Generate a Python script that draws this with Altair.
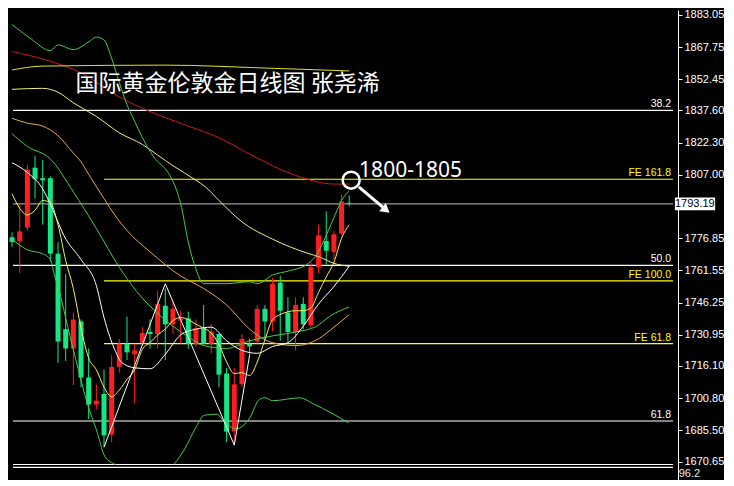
import altair as alt
import pandas as pd

# ---------------- candles (index 0..44, daily) ----------------
idx = list(range(45))
opens = [1777.3, 1775.5, 1781.9, 1810.4, 1805.4, 1805.4, 1769.5, 1733.6, 1724.4, 1737.3,
         1710.6, 1697.8, 1702.8, 1683.5, 1715.7, 1726.7, 1721.7, 1727.2, 1732.3, 1731.3,
         1744.7, 1735.9, 1737.8, 1738.7, 1726.7, 1734.1, 1726.7, 1731.3, 1712.5, 1684.9,
         1707.4, 1726.7, 1727.7, 1743.3, 1737.3, 1755.7, 1741.5, 1732.3, 1745.6, 1735.5,
         1763.1, 1775.5, 1770.4, 1779.1, 1793.7]
highs = [1779.6, 1793.4, 1811.8, 1815.9, 1814.1, 1806.3, 1775.0, 1759.8, 1741.5, 1738.2,
         1724.4, 1707.4, 1714.3, 1721.2, 1729.0, 1739.6, 1726.7, 1734.6, 1738.2, 1752.0,
         1753.0, 1746.5, 1742.4, 1741.9, 1738.2, 1745.1, 1735.9, 1731.5, 1715.2, 1715.2,
         1731.3, 1729.0, 1745.1, 1745.1, 1758.0, 1758.9, 1748.8, 1748.8, 1748.8, 1765.4,
         1783.3, 1789.7, 1780.5, 1797.5, 1797.1]
lows = [1772.7, 1760.3, 1780.5, 1795.7, 1783.3, 1765.8, 1717.5, 1718.5, 1707.0, 1706.0,
        1690.9, 1695.5, 1677.5, 1679.9, 1712.9, 1718.9, 1698.2, 1725.8, 1724.4, 1724.4,
        1718.9, 1731.3, 1726.7, 1724.4, 1725.4, 1726.3, 1722.1, 1706.0, 1679.9, 1678.5,
        1706.0, 1721.2, 1726.7, 1729.0, 1732.7, 1728.1, 1727.7, 1723.5, 1733.6, 1734.1,
        1760.3, 1764.4, 1766.7, 1778.2, 1792.0]
closes = [1775.0, 1780.1, 1809.5, 1804.9, 1804.4, 1769.5, 1727.7, 1724.4, 1738.2, 1710.6,
          1697.8, 1699.6, 1683.1, 1715.7, 1726.7, 1722.6, 1723.5, 1731.8, 1731.3, 1745.6,
          1735.9, 1743.3, 1738.7, 1726.7, 1734.1, 1726.7, 1732.3, 1712.0, 1684.9, 1707.4,
          1729.0, 1725.4, 1743.3, 1737.3, 1755.2, 1742.4, 1732.3, 1745.1, 1735.9, 1763.1,
          1778.2, 1770.9, 1778.7, 1794.3, 1793.19]

# ---------------- indicator lines (index, price) ----------------
red_i = [0, 5, 9, 14, 18, 23, 27, 31, 37, 42, 44]
red_p = [1865.58, 1860.98, 1855.47, 1843.97, 1837.08, 1830.18, 1824.66, 1816.85, 1806.73, 1802.59, 1802.59]

flat_i = [0, 4, 20, 33, 44]
flat_p = [1856.84, 1858.68, 1859.14, 1857.76, 1856.38]

ma60_i = [0, 4, 6, 8, 11, 14, 17, 19, 21, 24, 25.25, 27, 30, 34, 38.75, 40, 42, 44]
ma60_p = [1847.65, 1848.11, 1846.27, 1841.21, 1834.78, 1826.96, 1821.44, 1816.38, 1811.33,
          1804.43, 1801.22, 1794.78, 1784.66, 1776.39, 1769.49, 1768.11, 1764.89, 1763.51]

ma30_i = [0, 2, 4, 6, 8, 9, 10, 12, 13.5, 15, 18, 22, 25, 28, 31, 34, 37, 40, 42, 44]
ma30_p = [1833.86, 1831.56, 1830.18, 1825.58, 1817.30, 1813.16, 1807.19, 1795.70, 1787.42,
          1780.52, 1770.40, 1758.92, 1752.94, 1745.12, 1733.63, 1727.19, 1725.81, 1729.03,
          1734.55, 1740.53]

bbu_i = [0, 2.5, 5, 6, 8, 10, 11, 12, 13, 14, 15, 16, 17, 18.5, 20.5, 21.5, 22, 23, 24, 25,
         28, 31, 32, 34, 36, 38.5, 39.75, 41, 42.25, 43, 44]
bbu_p = [1878.45, 1871.56, 1866.04, 1868.80, 1866.50, 1870.18, 1872.48, 1871.10, 1862.36,
         1850.87, 1840.29, 1832.47, 1824.66, 1815.47, 1807.19, 1799.38, 1793.40, 1775.00,
         1762.13, 1755.24, 1755.24, 1756.16, 1755.24, 1759.37, 1761.21, 1764.43, 1769.03,
         1778.22, 1788.77, 1794.78, 1799.38]

bbm_i = [0, 2, 5, 8, 11, 14, 17, 18.5, 21, 23, 25, 28, 31, 34, 37, 39.75, 41.4, 44]
bbm_p = [1826.50, 1820.52, 1814.55, 1798.91, 1781.44, 1763.05, 1748.34, 1742.83, 1735.01,
         1729.95, 1725.81, 1724.43, 1728.11, 1730.41, 1732.25, 1735.01, 1739.61, 1744.20]

bbl1_i = [0, 2, 4, 5, 5.5, 6.375, 7.25, 8.5, 9.75, 11.125, 12, 13, 13.5]
bbl1_p = [1776.39, 1771.33, 1769.49, 1766.73, 1759.83, 1748.80, 1735.01, 1716.62, 1699.15,
          1684.44, 1673.86, 1670.18, 1669.26]
bbl2_i = [21.125, 22.6, 23.9, 25.1, 26.75, 27.6, 29.25, 31, 32.25, 33, 34, 37.6, 39.25, 41.75, 43.9]
bbl2_p = [1669.26, 1677.08, 1686.27, 1692.71, 1693.17, 1689.95, 1686.27, 1691.33, 1700.07,
          1700.99, 1699.61, 1700.99, 1698.23, 1693.63, 1689.03]

ma5_i = idx
ma5_p = [1797.99, 1791.10, 1787.88, 1790.18, 1794.78, 1793.86, 1783.28, 1766.27, 1752.94,
         1734.09, 1719.83, 1714.32, 1706.04, 1701.45, 1704.67, 1709.72, 1714.32, 1723.97,
         1727.19, 1730.87, 1733.63, 1737.77, 1739.14, 1738.23, 1735.93, 1734.09, 1731.79,
         1726.27, 1718.00, 1712.48, 1712.94, 1711.56, 1718.00, 1728.57, 1738.23, 1740.53,
         1741.91, 1742.37, 1742.37, 1743.75, 1751.10, 1758.46, 1765.35, 1776.85, 1783.28]

ma10_i = [0, 2, 4, 5.5, 6.75, 9, 11, 12, 13.5, 14.25, 16, 18, 20, 22, 24, 26, 28, 30, 32,
          34, 36, 38, 40, 42, 44]
ma10_p = [1812.71, 1808.11, 1800.29, 1788.80, 1778.22, 1766.73, 1754.32, 1739.14, 1723.05,
          1718.00, 1715.24, 1714.78, 1721.68, 1730.87, 1733.63, 1734.55, 1728.11, 1723.51,
          1722.14, 1725.35, 1727.19, 1735.01, 1745.58, 1753.86, 1763.51]

zz_i = [12, 20, 29, 31]
zz_p = [1677.5, 1755.2, 1678.5, 1721.2]

# ---------------- horizontal levels ----------------
lvl_names = ["38.2", "FE 161.8", "cur", "50.0", "FE 100.0", "FE 61.8", "61.8", "sepA", "sepB"]
lvl_price = [1837.60, 1804.89, 1793.19, 1763.97, 1756.61, 1726.73, 1689.95, 1669.26, 1667.88]
lvl_start = [0.125, 12, 0.125, 0.125, 12, 12, 0.125, 0.125, 0.125]
lvl_color = ["#ffffff", "#ffff00", "#9a9a9a", "#ffffff", "#ffff00", "#ffff00", "#ffffff",
             "#ffffff", "#ffffff"]
lvl_label = ["38.2", "FE 161.8", "", "50.0", "FE 100.0", "FE 61.8", "61.8", "", ""]

ticks = [1883.05, 1867.75, 1852.45, 1837.60, 1822.30, 1807.00, 1776.85, 1761.55,
         1746.25, 1730.95, 1716.10, 1700.80, 1685.50, 1670.65]

title_text = "国际黄金伦敦金日线图 张尧浠"
target_text = "1800-1805"
cur_text = "1793.19"
sub_text = "96.2"

# ---------------- build frames ----------------
UP, DOWN = "#ff1e1e", "#14e884"
cdf = pd.DataFrame({"i": idx, "open": opens, "high": highs, "low": lows, "close": closes})
cdf["col"] = [UP if c >= o else DOWN for o, c in zip(opens, closes)]

series = [("red", red_i, red_p), ("flat", flat_i, flat_p), ("ma60", ma60_i, ma60_p),
          ("ma30", ma30_i, ma30_p), ("bbu", bbu_i, bbu_p), ("bbm", bbm_i, bbm_p),
          ("bbl1", bbl1_i, bbl1_p), ("bbl2", bbl2_i, bbl2_p), ("ma10", ma10_i, ma10_p),
          ("ma5", ma5_i, ma5_p)]
line_colors = {"red": "#d01818", "flat": "#e2e224", "ma60": "#f3ec86", "ma30": "#e8a850",
               "bbu": "#46cc46", "bbm": "#46cc46", "bbl1": "#46cc46", "bbl2": "#46cc46",
               "ma10": "#ffffff", "ma5": "#f5ee5c"}
rows = []
for name, ii, pp in series:
    for a, b in zip(ii, pp):
        rows.append({"series": name, "i": a, "price": b, "col": line_colors[name]})
ldf = pd.DataFrame(rows)

zdf = pd.DataFrame({"i": zz_i, "price": zz_p})

END = 86.25
fdf = pd.DataFrame({"name": lvl_names, "price": lvl_price, "x0": lvl_start,
                    "x1": [END] * len(lvl_names), "col": lvl_color, "label": lvl_label})
fldf = fdf[fdf["label"] != ""].copy()
fldf["lx"] = 86.0

XS = alt.Scale(domain=[0.125, END], nice=False, zero=False)
YS = alt.Scale(domain=[1661.9, 1885.35], nice=False, zero=False)
AX = alt.Axis(
    orient="right", values=ticks, format=".2f", title=None, grid=False,
    domainColor="#ffffff", domainWidth=1, tickColor="#ffffff", tickSize=4,
    labelColor="#ffffff", labelFont="Liberation Sans", labelFontSize=11,
    labelPadding=2, labelOverlap=False, labelFlush=False)


def X(f="i"):
    return alt.X(f"{f}:Q", scale=XS, axis=None, title=None)


def Y(f="price"):
    return alt.Y(f"{f}:Q", scale=YS, axis=AX, title=None)


NOCOL = dict(scale=None)

levels = alt.Chart(fdf).mark_rule(strokeWidth=1.2).encode(
    x=X("x0"), x2="x1:Q", y=Y(), color=alt.Color("col:N", scale=None))

level_labels = alt.Chart(fldf).mark_text(
    align="right", baseline="bottom", dy=-1, fontSize=10.5, font="Liberation Sans").encode(
    x=X("lx"), y=Y(), text="label:N", color=alt.Color("col:N", scale=None))

wicks = alt.Chart(cdf).mark_rule(strokeWidth=1).encode(
    x=X(), y=Y("low"), y2="high:Q", color=alt.Color("col:N", scale=None))
bodies = alt.Chart(cdf).mark_bar(size=5).encode(
    x=X(), y=Y("open"), y2="close:Q", color=alt.Color("col:N", scale=None))

lines = alt.Chart(ldf).mark_line(strokeWidth=1, interpolate="monotone").encode(
    x=X(), y=Y(), color=alt.Color("col:N", scale=None), detail="series:N",
    order=alt.Order("i:Q"))

zigzag = alt.Chart(zdf).mark_line(strokeWidth=1, color="#ffffff").encode(x=X(), y=Y())

# annotations
title_df = pd.DataFrame({"i": [28.125], "price": [1849.95], "t": [title_text]})
title = alt.Chart(title_df).mark_text(
    align="center", baseline="middle", fontSize=23, font="Noto Sans CJK SC",
    color="#ffffff").encode(x=X(), y=Y(), text="t:N")

target_df = pd.DataFrame({"i": [52.0], "price": [1809.03], "t": [target_text]})
target = alt.Chart(target_df).mark_text(
    align="center", baseline="middle", fontSize=21, font="Noto Sans",
    color="#ffffff").encode(x=X(), y=Y(), text="t:N")

circ_df = pd.DataFrame({"i": [44.25], "price": [1804.43]})
circle = alt.Chart(circ_df).mark_point(
    shape="circle", filled=False, size=290, stroke="#ffffff", strokeWidth=2.5,
    opacity=1).encode(x=X(), y=Y())

arrow_df = pd.DataFrame({"i": [45.25], "price": [1801.21], "i2": [48.8], "p2": [1790.3]})
arrow = alt.Chart(arrow_df).mark_rule(strokeWidth=3, color="#ffffff").encode(
    x=X(), y=Y(), x2="i2:Q", y2="p2:Q")
head_df = pd.DataFrame({"i": [48.8], "price": [1790.3]})
head = alt.Chart(head_df).mark_point(
    shape="triangle-up", filled=True, size=110, color="#ffffff", opacity=1,
    angle=129).encode(x=X(), y=Y())

box_df = pd.DataFrame({"x0": [86.5], "x1": [91.75], "p0": [1790.2], "p1": [1796.2]})
box = alt.Chart(box_df).mark_rect(color="#ffffff").encode(
    x=X("x0"), x2="x1:Q", y=Y("p0"), y2="p1:Q")
cur_df = pd.DataFrame({"i": [89.1], "price": [1793.19], "t": [cur_text]})
cur = alt.Chart(cur_df).mark_text(
    align="center", baseline="middle", fontSize=11, font="Liberation Sans",
    color="#000000").encode(x=X(), y=Y(), text="t:N")

sub_df = pd.DataFrame({"i": [87.0], "price": [1664.66], "t": [sub_text]})
sub = alt.Chart(sub_df).mark_text(
    align="left", baseline="middle", fontSize=11, font="Liberation Sans",
    color="#e8e8e8").encode(x=X(), y=Y(), text="t:N")

chart = alt.layer(
    levels, level_labels, wicks, bodies, lines, zigzag, title, target, circle, arrow,
    head, box, cur, sub
).properties(width=670, height=470, padding=0, background="#000000").configure_view(
    strokeWidth=0, fill="#000000")

chart.save("out.html", embed_options={"renderer": "svg", "actions": False})
